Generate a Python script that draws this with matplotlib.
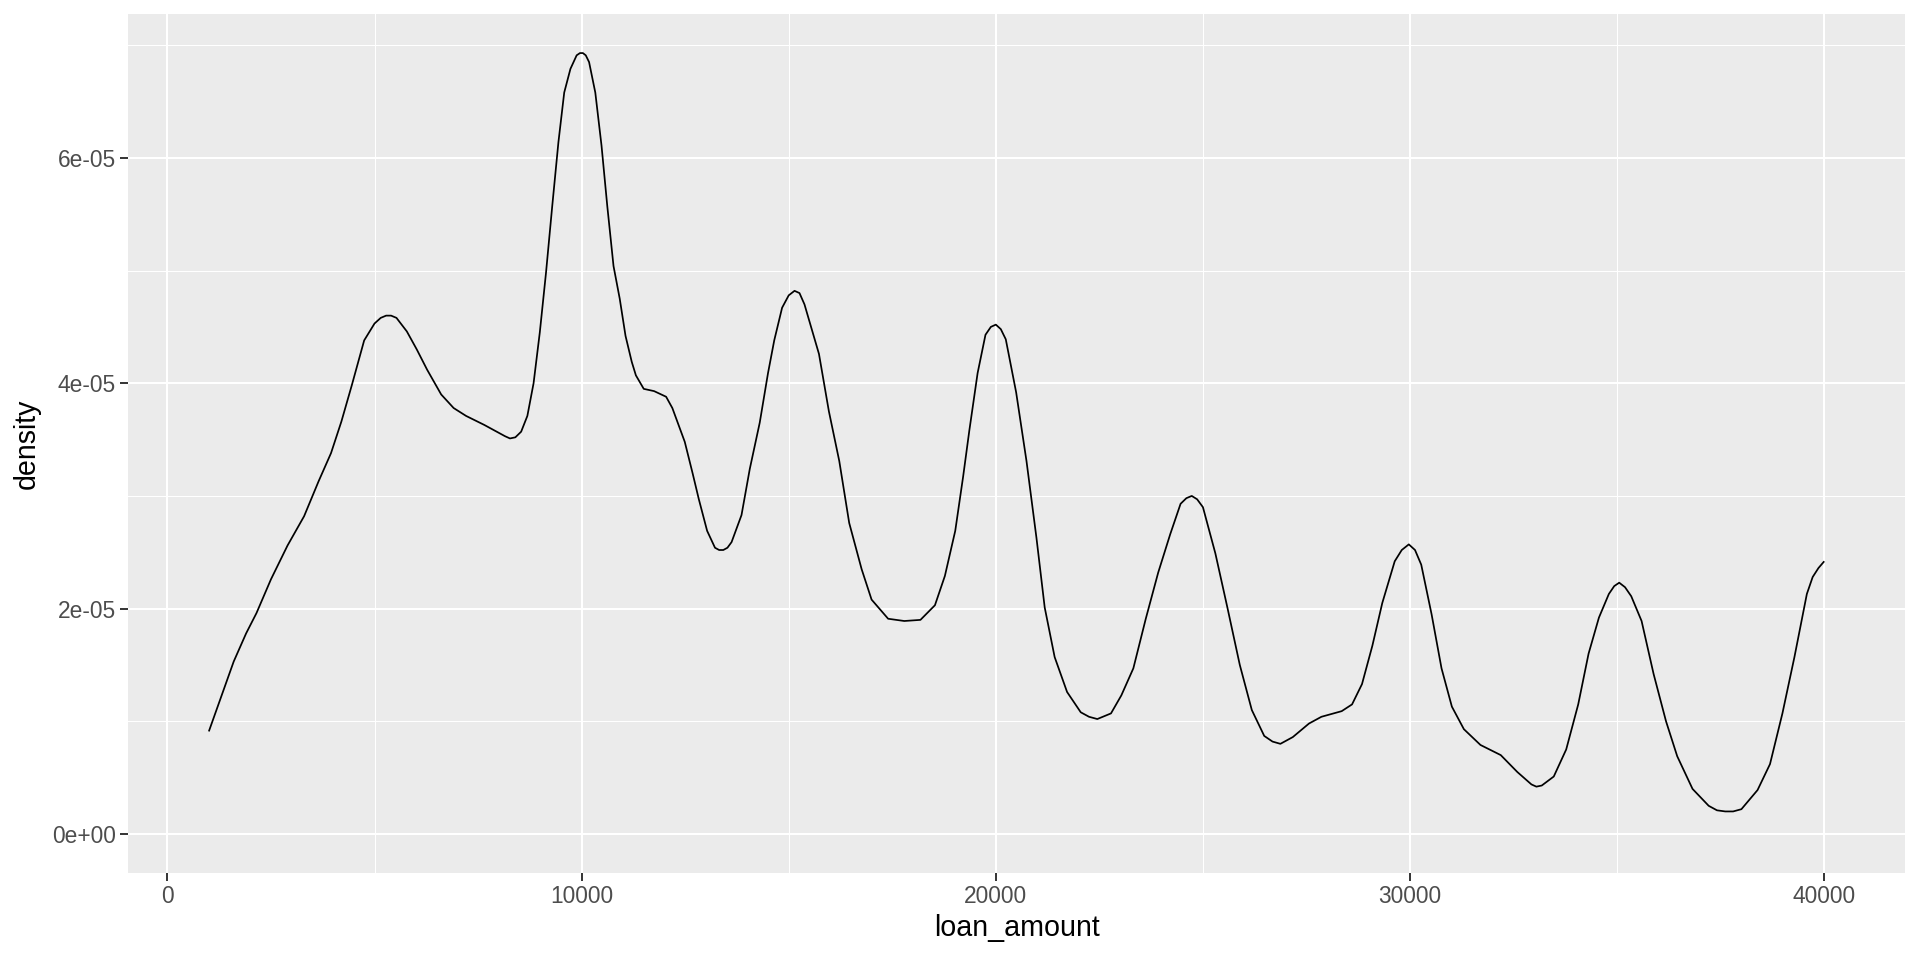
import numpy as np
import matplotlib
matplotlib.use("Agg")
import matplotlib.pyplot as plt
from matplotlib.ticker import FuncFormatter, MultipleLocator

# density curve (y in units of 1e-05)
loan_amount = [1000, 1300, 1600, 1900, 2150, 2500, 2900, 3300, 3650, 3950,
               4200, 4450, 4750, 5000, 5150, 5280, 5400, 5530, 5780, 6020, 6270, 6610,
               6910, 7210, 7650, 8000, 8150, 8270, 8400, 8540, 8690, 8840, 8990, 9140,
               9290, 9440, 9580, 9730, 9880, 9960, 10030, 10100, 10180, 10330, 10480, 10620,
               10770, 10920, 11060, 11210, 11310, 11500, 11750, 12040, 12190, 12490,
               12680, 12830, 13030, 13220, 13320, 13420, 13520, 13620, 13860, 14060, 14300, 14500,
               14650, 14840, 15000, 15140, 15260, 15380, 15730, 15970, 16220, 16460, 16760, 17000,
               17400, 17790, 18180, 18530, 18770, 19020, 19210, 19360, 19560, 19750,
               19880, 20000, 20120, 20240, 20490, 20740, 20980, 21180, 21420, 21720, 22050, 22250, 22450,
               22780, 23030, 23320, 23620, 23920, 24210, 24460, 24600, 24730, 24860, 25000, 25300,
               25590, 25890, 26180, 26480, 26680, 26870, 27170, 27560, 27860, 28350, 28600,
               28840, 29090, 29330, 29630, 29800, 29970, 30120, 30270, 30520, 30760, 31010, 31300,
               31700, 32190, 32590, 32930, 33050, 33180, 33470, 33770, 34060, 34310, 34560,
               34800, 34930, 35050, 35190, 35340, 35590, 35880, 36180, 36450, 36820, 37210, 37410, 37610,
               37800, 38000, 38390, 38690, 38990, 39280, 39580, 39720, 39860, 40000]
density_e5 = [0.91, 1.22, 1.53, 1.78, 1.96, 2.26, 2.56, 2.82, 3.13, 3.38,
              3.66, 3.98, 4.38, 4.53, 4.58, 4.60, 4.60, 4.58, 4.46, 4.30, 4.12, 3.90,
              3.78, 3.71, 3.63, 3.56, 3.53, 3.51, 3.52, 3.57, 3.71, 4.00, 4.45, 4.98,
              5.57, 6.14, 6.58, 6.79, 6.91, 6.93, 6.93, 6.91, 6.85, 6.58, 6.11, 5.57,
              5.04, 4.75, 4.42, 4.19, 4.07, 3.95, 3.93, 3.88, 3.78, 3.48,
              3.20, 2.97, 2.69, 2.54, 2.52, 2.52, 2.54, 2.59, 2.83, 3.24, 3.65, 4.09,
              4.38, 4.67, 4.78, 4.82, 4.80, 4.70, 4.26, 3.75, 3.31, 2.76, 2.35, 2.08,
              1.91, 1.89, 1.90, 2.03, 2.29, 2.69, 3.17, 3.58, 4.09, 4.43,
              4.50, 4.52, 4.48, 4.39, 3.92, 3.31, 2.63, 2.01, 1.57, 1.26, 1.08, 1.04, 1.02,
              1.07, 1.23, 1.47, 1.91, 2.32, 2.66, 2.93, 2.98, 3.00, 2.97, 2.90, 2.49,
              2.01, 1.50, 1.10, 0.87, 0.82, 0.80, 0.86, 0.98, 1.04, 1.09, 1.15,
              1.33, 1.67, 2.05, 2.42, 2.52, 2.57, 2.52, 2.39, 1.95, 1.47, 1.13, 0.93,
              0.79, 0.70, 0.55, 0.44, 0.42, 0.43, 0.51, 0.75, 1.15, 1.60, 1.92,
              2.13, 2.20, 2.23, 2.19, 2.11, 1.89, 1.42, 1.00, 0.69, 0.40, 0.25, 0.21, 0.20,
              0.20, 0.22, 0.39, 0.62, 1.07, 1.57, 2.13, 2.28, 2.36, 2.42]

x_ticks = [0, 10000, 20000, 30000, 40000]
y_ticks = [0, 2e-05, 4e-05, 6e-05]

plt.rcParams['font.family'] = ['Liberation Sans', 'DejaVu Sans']

x = np.array(loan_amount, dtype=float)
y = np.array(density_e5) * 1e-05

fig = plt.figure(figsize=(19.2, 9.6), dpi=100)
ax = fig.add_axes([0.0667, 0.0906, 0.9255, 0.8948])
ax.set_facecolor('#EBEBEB')

ax.plot(x, y, color='black', lw=1.25, zorder=3,
        solid_joinstyle='round', solid_capstyle='butt')

# ggplot style 5% expansion
xr = x.max() - x.min()
ax.set_xlim(x.min() - 0.05 * xr, x.max() + 0.05 * xr)
ax.set_ylim(-0.05 * y.max(), y.max() * 1.05)

ax.set_xticks(x_ticks)
ax.set_yticks(y_ticks)
ax.xaxis.set_minor_locator(MultipleLocator(5000))
ax.yaxis.set_minor_locator(MultipleLocator(1e-05))
ax.yaxis.set_major_formatter(FuncFormatter(lambda v, p: f"{v:.0e}"))
ax.xaxis.set_major_formatter(FuncFormatter(lambda v, p: f"{v:.0f}"))

ax.grid(which='major', color='white', lw=1.45, zorder=0)
ax.grid(which='minor', color='white', lw=0.75, zorder=0)
ax.set_axisbelow(True)

for s in ax.spines.values():
    s.set_visible(False)

ax.tick_params(which='major', length=5.8, width=1.4, color='#333333',
               labelsize=16.4, labelcolor='#4D4D4D', pad=3)
ax.tick_params(which='minor', length=0)

ax.set_xlabel('loan_amount', fontsize=20.6, color='black', labelpad=4)
ax.set_ylabel('density', fontsize=20.6, color='black', labelpad=8)

fig.savefig('out.png', dpi=100, facecolor='white')
